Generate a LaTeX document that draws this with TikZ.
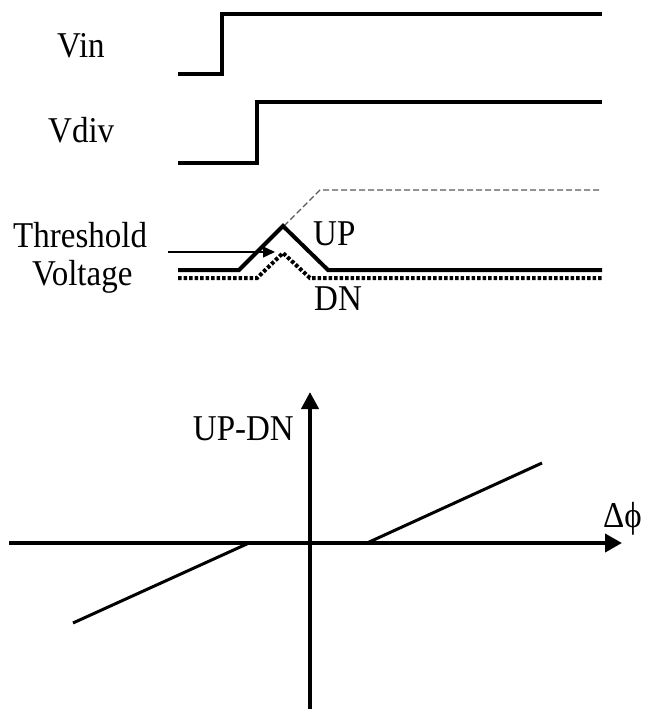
\documentclass[tikz,border=0pt]{standalone}
\usepackage{fontspec}
\usepackage{graphicx}
\setmainfont{Liberation Serif}
\usetikzlibrary{arrows.meta}
\newcommand\talltext[1]{\scalebox{1}[1.1]{#1}}
\begin{document}
\begin{tikzpicture}[x=1pt,y=-1pt,
  lbl/.style={inner sep=0pt, font=\fontsize{33}{38}\selectfont},
  sig/.style={line width=4pt, line join=miter},
  dotsig/.style={line width=4pt, dash pattern=on 3.5pt off 2pt},
  ghost/.style={line width=1.2pt, black!65, dash pattern=on 6pt off 3pt},
  axis/.style={line width=4pt},
  slope/.style={line width=3pt}]
\useasboundingbox (0,0) rectangle (647,709);
% labels
\node[lbl, anchor=base west] (vin) at (57,57) {\talltext{Vin}};
\node[lbl, anchor=base west] (vdiv) at (48,142) {\talltext{Vdiv}};
\node[lbl, anchor=base west] (thr) at (13,247) {\talltext{Threshold}};
\node[lbl, anchor=base west] (volt) at (32,285) {\talltext{Voltage}};
\node[lbl, anchor=base west] (up) at (313,245) {\talltext{UP}};
\node[lbl, anchor=base west] (dn) at (314,310) {\talltext{DN}};
\node[lbl, anchor=base east] (updn) at (294,440) {\talltext{UP-DN}};
\node[lbl, anchor=base west] (dphi) at (603,527) {\talltext{Δϕ}};
% Vin
\draw[sig] (178,74) -- (222,74) -- (222,14) -- (602,14);
% Vdiv
\draw[sig] (178,163) -- (257,163) -- (257,102) -- (602,102);
% ghost dashed
\draw[ghost] (284,226) -- (320,190) -- (602,190);
% UP
\draw[sig] (178,270) -- (239,270) -- (283,226) -- (328,270) -- (602,270);
% DN
\draw[dotsig] (178,278) -- (257,278) -- (283,253) -- (310,278) -- (602,278);
% threshold arrow
\coordinate (thrs) at (168,252);
\coordinate (thre) at (275,252);
\draw[line width=1.4pt, -{Triangle[length=12pt,width=11pt]}] (thrs) -- (thre);
% axes
\coordinate (xl) at (9,543);
\coordinate (xr) at (622,543);
\coordinate (yb) at (310,709);
\coordinate (yt) at (310,392);
\draw[axis, -{Triangle[length=17pt,width=18pt]}] (xl) -- (xr);
\draw[axis, -{Triangle[length=17pt,width=17pt]}] (yb) -- (yt);
\draw[slope] (367,543) -- (542,463);
\draw[slope] (249,543) -- (73,623);
\end{tikzpicture}
\end{document}
